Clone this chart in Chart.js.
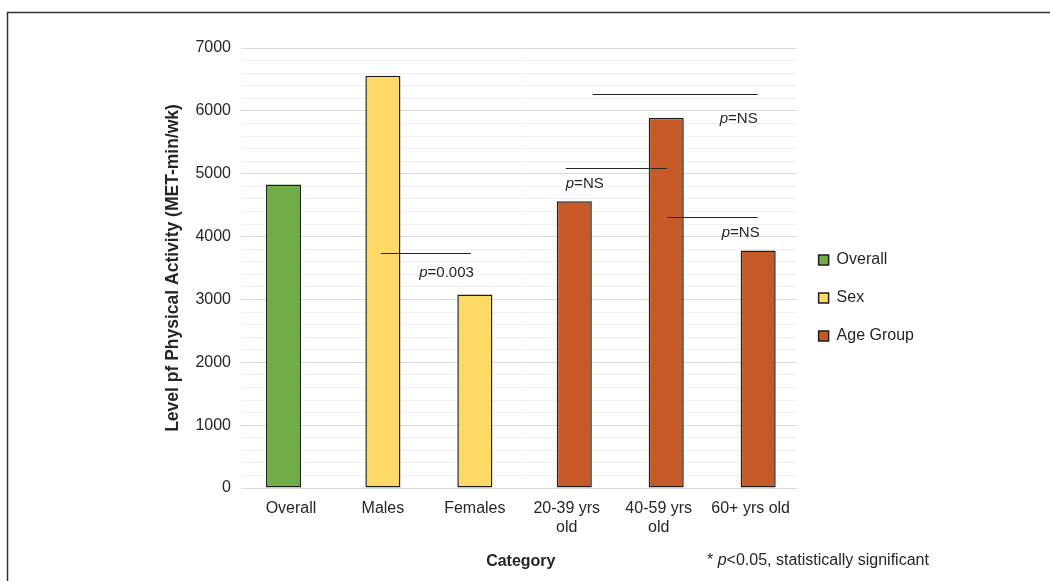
<!DOCTYPE html>
<html>
<head>
<meta charset="utf-8">
<script src="https://cdn.jsdelivr.net/npm/chart.js@4.4.1/dist/chart.umd.min.js"></script>
<style>
  body { margin: 0; background: #fff; }
  canvas { display: block; }
</style>
</head>
<body>
<canvas id="grafico" width="1050" height="581"></canvas>
<script>
// datos
const categorias = ['Overall', 'Males', 'Females', ['20-39 yrs', 'old'], ['40-59 yrs', 'old'], '60+ yrs old'];
const valoresOverall = [4830, null, null, null, null, null];
const valoresSex = [null, 6560, 3080, null, null, null];
const valoresEdad = [null, null, null, 4560, 5890, 3780];
const ticksY = [0, 1000, 2000, 3000, 4000, 5000, 6000, 7000];

// comparaciones (indices de categoria) y valores p
const compDesde = [1, 3, 4, 3];
const compHasta = [2, 4, 5, 5];
const compNivel = [3740, 5090, 4310, 6270];
const compTextoNivel = [3420, 4840, 4060, 5870];
const compValorP = ['0.003', 'NS', 'NS', 'NS'];

const fuente = "'Liberation Sans', Arial, sans-serif";

// pequenos ajustes en pixeles para que las lineas queden como en la figura
const ajusteInicio = [-2, -1, 9, 26];
const ajusteFin = [-4, 8, 7, 7];
const ajusteTexto = [-1, -1, 9, 7];
const alineaTexto = ['right', 'left', 'right', 'right'];

const marcoYNotas = {
    id: 'marcoYNotas',
    beforeDraw(chart) {
        const ctx = chart.ctx;
        ctx.save();
        ctx.fillStyle = '#fff';
        ctx.fillRect(0, 0, chart.width, chart.height);
        ctx.strokeStyle = '#333';
        ctx.lineWidth = 1.5;
        ctx.beginPath();
        ctx.moveTo(7.5, chart.height);
        ctx.lineTo(7.5, 12.5);
        ctx.lineTo(chart.width, 12.5);
        ctx.stroke();
        ctx.restore();
    },
    afterDatasetsDraw(chart) {
        const ctx = chart.ctx;
        const x = chart.scales.x;
        const y = chart.scales.y;
        ctx.save();
        ctx.strokeStyle = '#262626';
        ctx.lineWidth = 1;
        ctx.fillStyle = '#262626';
        ctx.textBaseline = 'middle';
        for (let i = 0; i < compDesde.length; i++) {
            const yl = Math.round(y.getPixelForValue(compNivel[i])) + 0.5;
            const x1 = x.getPixelForValue(compDesde[i]) + ajusteInicio[i];
            const x2 = x.getPixelForValue(compHasta[i]) + ajusteFin[i];
            ctx.beginPath();
            ctx.moveTo(x1, yl);
            ctx.lineTo(x2, yl);
            ctx.stroke();

            const resto = '=' + compValorP[i];
            ctx.font = 'italic 15px ' + fuente;
            const anchoP = ctx.measureText('p').width;
            ctx.font = '15px ' + fuente;
            const anchoResto = ctx.measureText(resto).width;
            let xt;
            if (alineaTexto[i] === 'right') {
                xt = x.getPixelForValue(compHasta[i]) + ajusteTexto[i] - anchoP - anchoResto;
            } else {
                xt = x.getPixelForValue(compDesde[i]) + ajusteTexto[i];
            }
            const yt = y.getPixelForValue(compTextoNivel[i]);
            ctx.textAlign = 'left';
            ctx.font = 'italic 15px ' + fuente;
            ctx.fillText('p', xt, yt);
            ctx.font = '15px ' + fuente;
            ctx.fillText(resto, xt + anchoP, yt);
        }

        // nota al pie
        let xn = 707;
        const yn = 561;
        ctx.fillStyle = '#262626';
        ctx.font = '16px ' + fuente;
        ctx.fillText('* ', xn, yn);
        xn += ctx.measureText('* ').width;
        ctx.font = 'italic 16px ' + fuente;
        ctx.fillText('p', xn, yn);
        xn += ctx.measureText('p').width;
        ctx.font = '16px ' + fuente;
        ctx.fillText('<0.05, statistically significant', xn, yn);
        ctx.restore();
    }
};

const ctx = document.getElementById('grafico').getContext('2d');
new Chart(ctx, {
    type: 'bar',
    data: {
        labels: categorias,
        datasets: [
            { label: 'Overall', data: valoresOverall, backgroundColor: '#70AD47', borderColor: '#1f1f1f', borderWidth: 1.5, borderSkipped: false },
            { label: 'Sex', data: valoresSex, backgroundColor: '#FFD966', borderColor: '#1f1f1f', borderWidth: 1.5, borderSkipped: false },
            { label: 'Age Group', data: valoresEdad, backgroundColor: '#C55A28', borderColor: '#1f1f1f', borderWidth: 1.5, borderSkipped: false }
        ]
    },
    options: {
        responsive: false,
        animation: false,
        categoryPercentage: 0.245,
        barPercentage: 4.67,
        layout: { padding: { left: 159, top: 48, right: 126, bottom: 33 } },
        plugins: {
            tooltip: { enabled: false },
            legend: {
                position: 'right',
                align: 'center',
                labels: {
                    boxWidth: 10,
                    boxHeight: 10,
                    padding: 22,
                    color: '#262626',
                    font: { family: fuente, size: 16 }
                }
            }
        },
        scales: {
            x: {
                grid: { display: false, drawTicks: false },
                border: { color: '#d9d9d9' },
                ticks: {
                    color: '#262626',
                    padding: 11,
                    maxRotation: 0,
                    autoSkip: false,
                    font: { family: fuente, size: 16 }
                },
                title: {
                    display: true,
                    text: 'Category',
                    color: '#262626',
                    font: { family: fuente, size: 16, weight: 'bold' },
                    padding: { top: 0, bottom: -23 }
                },
                afterFit(scale) { scale.height = 60; }
            },
            y: {
                min: 0,
                max: 7000,
                border: { display: false },
                grid: {
                    tickLength: 4,
                    color: (c) => ticksY.includes(c.tick.value) ? '#d9d9d9' : '#f0f0f0',
                    lineWidth: 1
                },
                ticks: {
                    stepSize: 200,
                    autoSkip: false,
                    padding: 10,
                    color: '#262626',
                    font: { family: fuente, size: 16 },
                    callback: (v) => ticksY.includes(v) ? v : ''
                },
                title: {
                    display: true,
                    text: 'Level pf Physical Activity (MET-min/wk)',
                    color: '#262626',
                    font: { family: fuente, size: 17.5, weight: 'bold' },
                    padding: { top: 4, bottom: 4 }
                },
                afterFit(scale) { scale.width = 86; }
            }
        }
    },
    plugins: [marcoYNotas]
});
</script>
</body>
</html>
